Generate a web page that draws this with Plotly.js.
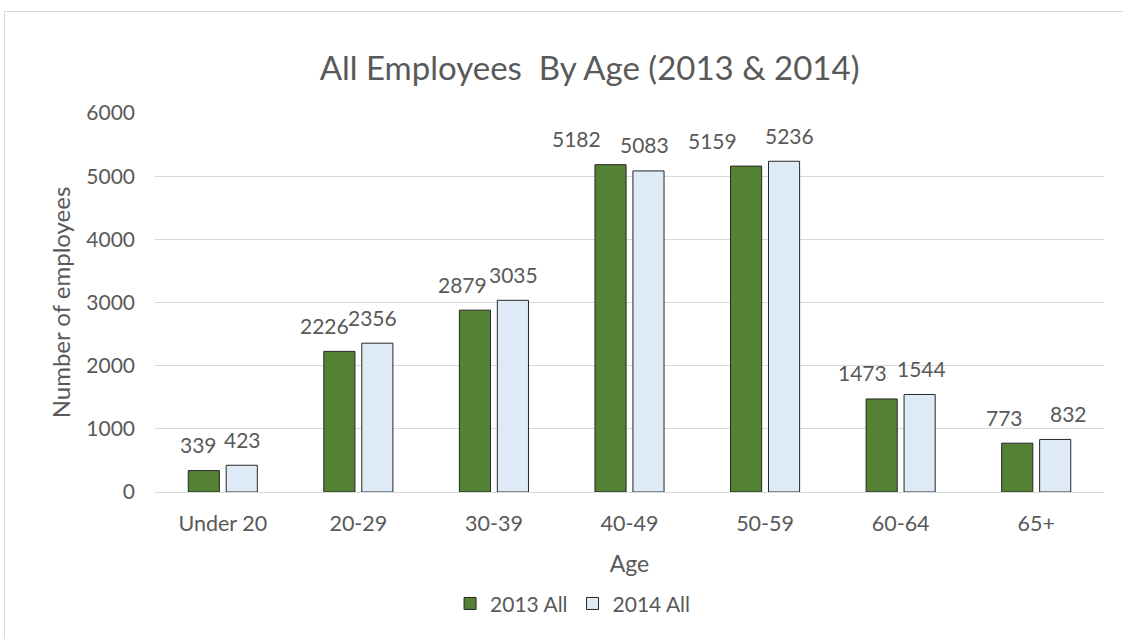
<!DOCTYPE html>
<html><head><meta charset="utf-8">
<script src="https://cdn.plot.ly/plotly-3.0.1.min.js"></script>
<style>body{margin:0;padding:0;background:#fff}#wrap{position:relative;width:1123px;height:639px}#border{position:absolute;left:4px;top:11px;width:1140px;height:660px;border:1px solid #d9d9d9;pointer-events:none}</style>
</head><body>
<div id="wrap"><div id="chart" style="width:1123px;height:639px"></div><div id="border"></div></div>
<script>
const categories = ["Under 20","20-29","30-39","40-49","50-59","60-64","65+"];
const values2013 = [339,2226,2879,5182,5159,1473,773];
const values2014 = [423,2356,3035,5083,5236,1544,832];
const seriesNames = ["2013 All","2014 All"];
const yTicks = [0,1000,2000,3000,4000,5000,6000];
// label pixel shifts (style only) reproducing the reference's label placement
const labelDx2013 = [-24,-34,-31,-53,-53,-38,-32];
const labelDx2014 = [20,14,20,15,24,21,32];

const font = "Lato, 'Open Sans', sans-serif";
const txt = "#595959";
function mk(name, vals, color){
  return {type:'bar', name:name, x:categories, y:vals,
    marker:{color:color, line:{color:'#262626', width:1}}, hoverinfo:'x+y'};
}
const data = [mk(seriesNames[0], values2013, '#548235'), mk(seriesNames[1], values2014, '#DEEBF7')];
const annotations = [];
categories.forEach((c,i)=>{
  annotations.push({x:c, y:values2013[i], xref:'x', yref:'y', text:String(values2013[i]), showarrow:false,
    xanchor:'center', yanchor:'middle', xshift:labelDx2013[i], yshift:26, font:{family:font, size:21, color:txt}});
  annotations.push({x:c, y:values2014[i], xref:'x', yref:'y', text:String(values2014[i]), showarrow:false,
    xanchor:'center', yanchor:'middle', xshift:labelDx2014[i], yshift:26, font:{family:font, size:21, color:txt}});
});
const layout = {
  width:1123, height:639,
  margin:{l:155, r:19, t:113, b:147},
  paper_bgcolor:'#fff', plot_bgcolor:'#fff',
  font:{family:font, color:txt},
  title:{text:'All Employees  By Age (2013 & 2014)', font:{family:font, size:33, color:txt}, x:0.525, xref:'container', xanchor:'center', y:1-68/639, yref:'container', yanchor:'middle'},
  barmode:'group', bargap:0.44, bargroupgap:0.18,
  xaxis:{title:{text:'Age', font:{family:font, size:23, color:txt}, standoff:21}, tickfont:{family:font, size:21.5, color:txt}, showline:true, linecolor:'#d9d9d9', linewidth:1, ticks:'', showgrid:false, automargin:false, ticklabelstandoff:12},
  yaxis:{title:{text:'Number of employees', font:{family:font, size:24, color:txt}, standoff:8}, range:[0,6000], tickvals:yTicks, ticktext:yTicks.map(String), tickfont:{family:font, size:21, color:txt}, gridcolor:'#d9d9d9', zeroline:false, showline:false, ticks:'', ticklabelstandoff:19, automargin:false},
  showlegend:true,
  legend:{orientation:'h', x:0.44, xanchor:'center', y:-0.295, yanchor:'middle', font:{family:font, size:21, color:txt}, traceorder:'normal', itemwidth:30},
  annotations:annotations
};
Plotly.newPlot('chart', data, layout, {displayModeBar:false, staticPlot:true});
</script>
</body></html>
